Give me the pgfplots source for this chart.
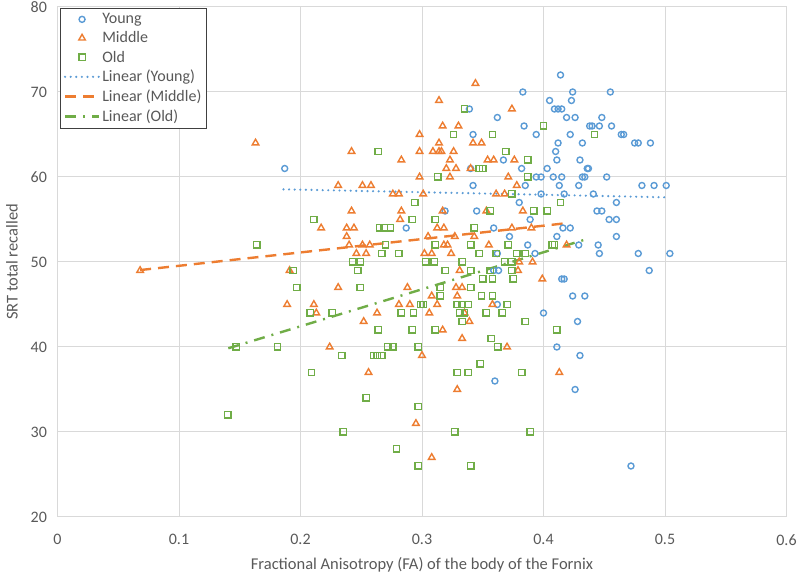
\documentclass[border=0pt]{standalone}
\usepackage{fontspec}
\setmainfont{Carlito}
\usepackage{pgfplots}
\pgfplotsset{compat=1.18}
\definecolor{cY}{RGB}{91,155,213}
\definecolor{cM}{RGB}{237,125,49}
\definecolor{cO}{RGB}{112,173,71}
\definecolor{gridc}{RGB}{217,217,217}
\definecolor{txt}{RGB}{89,89,89}
\definecolor{legb}{RGB}{64,64,64}
\begin{document}
\begin{tikzpicture}[x=1pt,y=1pt]
\useasboundingbox (-57.5,-60) rectangle (742.5,517);
\begin{axis}[
  at={(0,0)}, anchor=south west,
  scale only axis, width=729pt, height=510pt,
  xmin=0, xmax=0.6, ymin=20, ymax=80,
  xtick={0,0.1,0.2,0.3,0.4,0.5,0.6},
  xticklabels={0,0.1,0.2,0.3,0.4,0.5,0.6},
  ytick={20,30,40,50,60,70,80},
  yticklabels={20,30,40,50,60,70,80},
  major tick length=0pt,
  grid=major, grid style={gridc, line width=1pt},
  axis line style={draw=none},
  tick label style={font=\fontsize{16}{18}\selectfont, text=txt},
  xticklabel style={yshift=-14pt},
  yticklabel style={xshift=-7pt},
  xlabel={Fractional Anisotropy (FA) of the body of the Fornix},
  ylabel={SRT total recalled},
  label style={font=\fontsize{16.5}{18}\selectfont, text=txt},
  xlabel style={at={(axis description cs:0.5,-0.0941)}, anchor=center},
  ylabel style={at={(axis description cs:-0.0624,0.5)}, anchor=center, rotate=0},
  legend style={at={(axis description cs:0.004,0.998)}, anchor=north west,
    draw=legb, line width=0.9pt, fill=white, font=\fontsize{16}{17}\selectfont,
    text=txt, row sep=2.6pt, inner xsep=3pt, inner ysep=3pt},
  legend cell align=left,
  legend image code/.code={\draw[mark repeat=2,mark phase=2,#1] plot coordinates {(0pt,0pt) (17pt,0pt) (34pt,0pt)};},
]
% Young
\addplot[only marks, mark=o, mark size=3pt, draw=cY, line width=1.4pt] coordinates {
(0.187,61) (0.287,54) (0.383,70) (0.339,68) (0.362,67) (0.384,66) (0.342,65)
(0.367,62) (0.340,61) (0.382,61) (0.342,59) (0.385,59) (0.380,57) (0.319,56)
(0.345,56) (0.359,54) (0.372,53) (0.387,52) (0.362,51) (0.359,49) (0.363,49)
(0.362,45) (0.360,36) (0.414,72) (0.424,70) (0.455,70) (0.405,69) (0.423,69)
(0.409,68) (0.412,68) (0.415,68) (0.419,67) (0.426,67) (0.448,67) (0.438,66)
(0.440,66) (0.446,66) (0.456,66) (0.394,65) (0.422,65) (0.464,65) (0.466,65)
(0.412,64) (0.432,64) (0.475,64) (0.478,64) (0.488,64) (0.410,63) (0.411,62)
(0.430,62) (0.403,61) (0.436,61) (0.437,61) (0.394,60) (0.398,60) (0.408,60)
(0.415,60) (0.432,60) (0.434,60) (0.452,60) (0.413,59) (0.429,59) (0.481,59)
(0.491,59) (0.501,59) (0.398,58) (0.417,58) (0.441,58) (0.460,57) (0.444,56)
(0.448,56) (0.454,55) (0.460,55) (0.389,55) (0.416,54) (0.422,54) (0.460,53)
(0.411,53) (0.429,52) (0.445,52) (0.393,51) (0.446,51) (0.478,51) (0.504,51)
(0.487,49) (0.415,48) (0.417,48) (0.424,46) (0.434,46) (0.400,44) (0.428,43)
(0.411,40) (0.430,39) (0.426,35) (0.472,26)
};
\addlegendentry{Young}
% Middle
\addplot[only marks, mark=triangle, mark size=3.8pt, draw=cM, line width=1.4pt] coordinates {
(0.068,49) (0.163,64) (0.191,49) (0.189,45) (0.242,63) (0.283,62) (0.298,65)
(0.298,63) (0.298,60) (0.231,59) (0.251,59) (0.258,59) (0.276,58) (0.281,58)
(0.242,56) (0.283,56) (0.282,55) (0.217,54) (0.238,54) (0.244,54) (0.238,53)
(0.240,52) (0.251,52) (0.257,52) (0.246,51) (0.254,51) (0.231,47) (0.288,47)
(0.211,45) (0.213,44) (0.263,44) (0.281,45) (0.290,45) (0.252,43) (0.224,40)
(0.256,37) (0.295,31) (0.344,71) (0.314,69) (0.374,68) (0.317,66) (0.330,66)
(0.342,64) (0.349,64) (0.314,64) (0.309,63) (0.314,63) (0.316,63) (0.326,63)
(0.323,62) (0.354,62) (0.359,62) (0.376,62) (0.320,61) (0.328,61) (0.340,61)
(0.323,60) (0.371,60) (0.378,59) (0.301,58) (0.361,58) (0.368,58) (0.317,56)
(0.353,56) (0.383,56) (0.3125,54) (0.318,54) (0.374,54) (0.305,53) (0.327,53)
(0.343,53) (0.318,52) (0.321,52) (0.355,52) (0.302,51) (0.308,51) (0.324,51)
(0.380,50) (0.331,49) (0.379,49) (0.328,47) (0.333,47) (0.329,46) (0.308,46)
(0.3125,45) (0.358,45) (0.306,44) (0.335,44) (0.339,43) (0.317,42) (0.333,41)
(0.370,40) (0.300,39) (0.329,35) (0.308,27) (0.390,54) (0.419,52) (0.391,50)
(0.399,48) (0.413,37)
};
\addlegendentry{Middle}
% Old
\addplot[only marks, mark=square, mark size=3.2pt, draw=cO, line width=1.4pt] coordinates {
(0.164,52) (0.194,49) (0.197,47) (0.147,40) (0.181,40) (0.140,32) (0.264,63)
(0.294,57) (0.211,55) (0.292,55) (0.265,54) (0.269,54) (0.274,54) (0.270,52)
(0.267,51) (0.281,51) (0.243,50) (0.249,50) (0.247,49) (0.249,47) (0.208,44)
(0.226,44) (0.299,45) (0.283,44) (0.293,44) (0.264,42) (0.292,42) (0.234,39)
(0.260,39) (0.263,39) (0.267,39) (0.272,40) (0.276,40) (0.297,40) (0.209,37)
(0.254,34) (0.297,33) (0.235,30) (0.279,28) (0.297,26) (0.335,68) (0.326,65)
(0.358,65) (0.369,63) (0.387,62) (0.347,61) (0.350,61) (0.313,60) (0.387,60)
(0.374,58) (0.356,56) (0.311,55) (0.343,54) (0.311,52) (0.340,52) (0.371,52)
(0.347,51) (0.361,51) (0.378,51) (0.385,51) (0.303,50) (0.310,50) (0.333,50)
(0.368,50) (0.374,50) (0.319,49) (0.340,49) (0.356,49) (0.374,49) (0.350,48)
(0.358,48) (0.375,48) (0.315,47) (0.340,47) (0.315,46) (0.349,46) (0.358,46)
(0.301,45) (0.329,45) (0.333,45) (0.338,45) (0.370,45) (0.331,44) (0.335,44)
(0.353,44) (0.366,44) (0.333,43) (0.385,43) (0.311,42) (0.357,41) (0.3625,40)
(0.348,38) (0.329,37) (0.338,37) (0.382,37) (0.327,30) (0.389,30) (0.340,26)
(0.400,66) (0.442,65) (0.414,57) (0.392,56) (0.403,56) (0.407,52) (0.409,52)
(0.411,42)
};
\addlegendentry{Old}
% Trendlines
\addplot[cY, line width=2.4pt, line cap=round, dash pattern=on 0pt off 5.6pt] coordinates {(0.186,58.55) (0.5035,57.6)};
\addlegendentry{Linear (Young)}
\addplot[cM, line width=2.4pt, dash pattern=on 11pt off 7pt] coordinates {(0.068,49.05) (0.421,54.6)};
\addlegendentry{Linear (Middle)}
\addplot[cO, line width=2.4pt, dash pattern=on 11pt off 7pt on 2pt off 7pt] coordinates {(0.1406,39.85) (0.438,52.8)};
\addlegendentry{Linear (Old)}
\end{axis}
\end{tikzpicture}
\end{document}
